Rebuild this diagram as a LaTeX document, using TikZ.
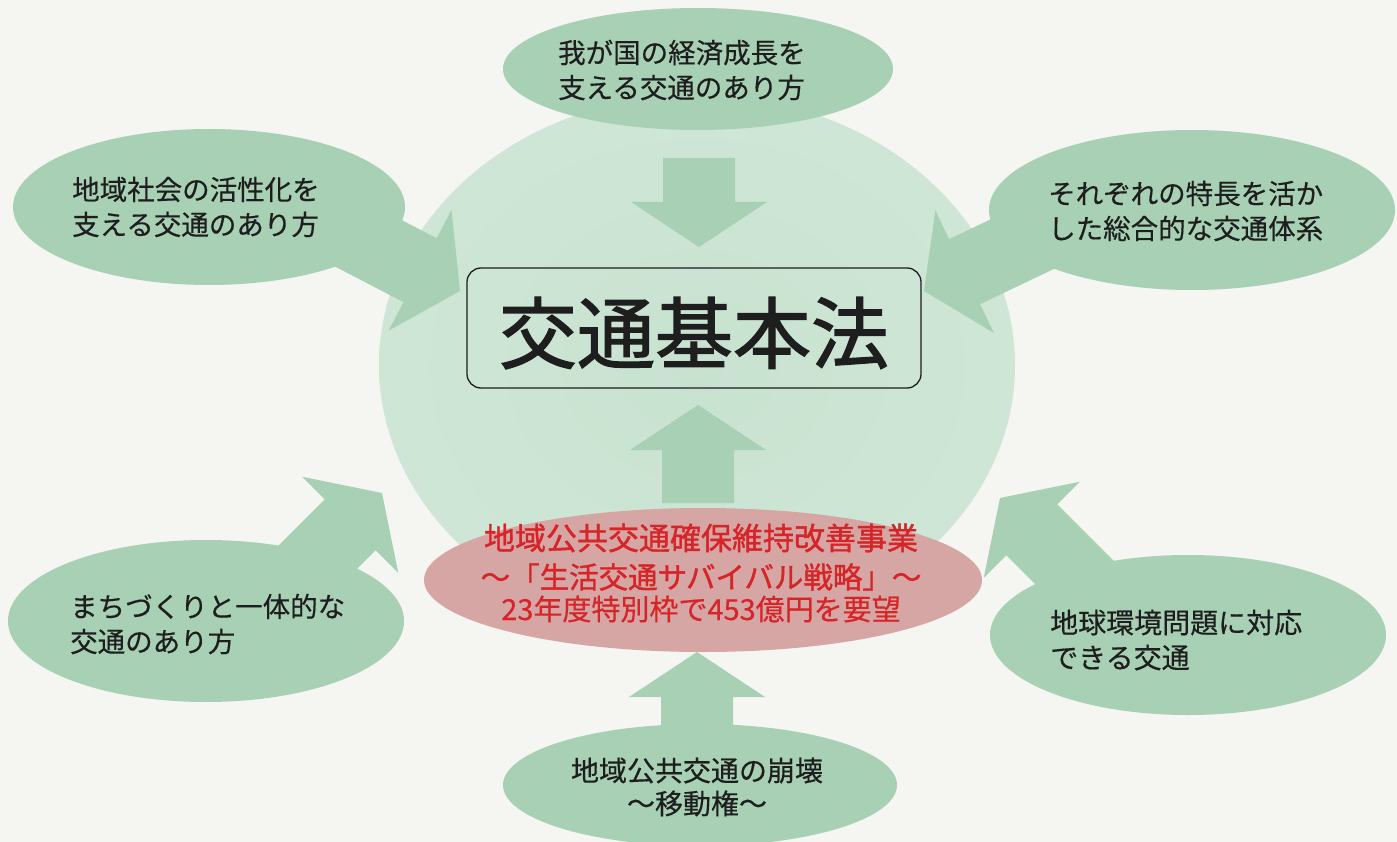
\documentclass[tikz,border=0pt]{standalone}
\usepackage{fontspec}
\newfontfamily\cjk{Noto Sans CJK JP}[FakeBold=0.4]
\newfontfamily\cjkm{Noto Sans CJK JP}[FakeBold=1.2]
\newfontfamily\cjkt{Noto Sans CJK JP}[FakeBold=1.6]
\usetikzlibrary{shapes.geometric}
\definecolor{bg}{RGB}{245,245,241}
\definecolor{gr}{RGB}{168,208,180}
\definecolor{circA}{RGB}{200,226,208}
\definecolor{circB}{RGB}{208,231,215}
\definecolor{circC}{RGB}{229,241,235}
\definecolor{pinkfill}{RGB}{213,166,163}
\definecolor{redtxt}{RGB}{214,36,40}
\definecolor{txt}{RGB}{30,30,30}
\pgfdeclareradialshading{circshade}{\pgfpoint{0bp}{0bp}}{color(0bp)=(circA); color(30bp)=(circB); color(50bp)=(circC)}
\tikzset{
  greenell/.style={ellipse, fill=gr, inner sep=0pt},
  lbl/.style={font=\cjk\fontsize{27.5}{35}\selectfont, text=txt, align=left, inner sep=0pt},
  redlbl/.style={font=\cjkm\fontsize{31}{31}\selectfont, text=redtxt, inner sep=0pt}
}
\newcommand\fatarr[4]{%
  \begin{scope}[shift={(#1,#2)}, rotate=#3]
    \fill[gr] (0,0) -- (-45,68) -- (-45,36) -- (-#4,36) -- (-#4,-36) -- (-45,-36) -- (-45,-68) -- cycle;
  \end{scope}}
\begin{document}
\begin{tikzpicture}[x=1pt,y=-1pt]
\fill[bg] (0,0) rectangle (1397,842);
\useasboundingbox (0,0) rectangle (1397,842);
% central circle
\node[ellipse, minimum width=636, minimum height=540, inner sep=0pt, shading=circshade] (circ) at (697,365) {};
% outer ellipses
\node[greenell, minimum width=390, minimum height=122] (top) at (698,69) {};
\node[greenell, minimum width=392, minimum height=156] (tl) at (209,207) {};
\node[greenell, minimum width=406, minimum height=160] (tr) at (1192,210) {};
\node[greenell, minimum width=396, minimum height=162] (bl) at (206,621) {};
\node[greenell, minimum width=396, minimum height=160] (br) at (1188,635) {};
\node[greenell, minimum width=394, minimum height=122] (bot) at (700,785) {};
% arrows
\fatarr{460}{291}{-27.5}{135}
\fatarr{924}{291}{205.5}{135}
\fatarr{382}{493}{45}{125}
\fatarr{1000}{498}{135}{135}
\fatarr{697}{652}{90}{85}
\fatarr{699}{247}{-90}{89}
\fatarr{698}{405}{90}{98}
% title box
\node[draw=txt, line width=1.3pt, rounded corners=14pt, minimum width=454, minimum height=120, inner sep=0pt] (box) at (694,328) {};
\node[font=\cjkt\fontsize{78}{78}\selectfont, text=txt, inner sep=0pt] (title) at (694,333) {交通基本法};
% pink ellipse
\node[ellipse, fill=pinkfill, minimum width=558, minimum height=144, inner sep=0pt] (pink) at (703,580) {};
\node[redlbl] (pk1) at (701,538) {地域公共交通確保維持改善事業};
\node[redlbl, font=\cjkm\fontsize{29.5}{29.5}\selectfont] (pk2) at (701,577) {〜「生活交通サバイバル戦略」〜};
\node[redlbl, font=\cjk\fontsize{29}{29}\selectfont] (pk3) at (701,609) {23年度特別枠で453億円を要望};
% labels
\node[lbl, anchor=west] (toptxt) at (558,70) {我が国の経済成長を\\支える交通のあり方};
\node[lbl, anchor=west] (tltxt) at (72,207) {地域社会の活性化を\\支える交通のあり方};
\node[lbl, anchor=west] (trtxt) at (1048,211) {それぞれの特長を活か\\した総合的な交通体系};
\node[lbl, anchor=west] (bltxt) at (70,624) {まちづくりと一体的な\\交通のあり方};
\node[lbl, anchor=west, font=\cjk\fontsize{28}{35}\selectfont] (brtxt) at (1050,640) {地球環境問題に対応\\できる交通};
\node[lbl, align=center, font=\cjk\fontsize{28}{33}\selectfont] (bottxt) at (697,787) {地域公共交通の崩壊\\〜移動権〜};
\end{tikzpicture}
\end{document}
